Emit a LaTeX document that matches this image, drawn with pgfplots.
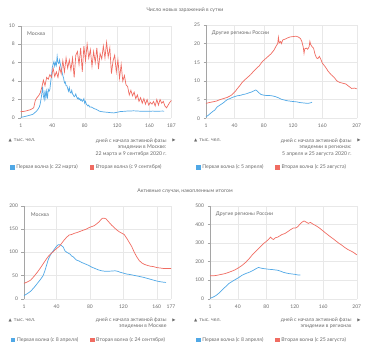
\documentclass[border=0pt]{standalone}
\usepackage{fontspec}
\setmainfont{Lato}
\newfontfamily\sym{DejaVu Sans}
\usepackage{pgfplots}
\pgfplotsset{compat=1.18}
\definecolor{cblue}{RGB}{80,168,230}
\definecolor{cred}{RGB}{240,108,98}
\definecolor{txt}{RGB}{105,105,105}
\definecolor{gridc}{RGB}{232,232,232}
\definecolor{axc}{RGB}{165,165,165}
\newcommand{\sz}{\fontsize{5.2}{6.6}\selectfont}
\pgfplotsset{
  panel/.style={
    scale only axis,
    axis x line*=bottom, axis y line*=left,
    x axis line style={gridc,-},
    y axis line style={axc,-},
    grid=major,
    major grid style={gridc,line width=0.4bp},
    xtick style={draw=none},
    ytick style={axc,line width=0.4bp},
    tick align=outside,
    major tick length=2.5bp,
    tick label style={font=\fontsize{5}{6}\selectfont, text=txt},
    /pgf/number format/assume math mode=true,
    /pgf/number format/1000 sep={},
    ymin=0, xmin=1,
    clip=false,
    every axis plot/.append style={line width=0.7bp, no markers},
    legend columns=2,
    legend cell align=left,
    legend style={draw=none, fill=none, inner sep=0pt, anchor=west,
      font=\sz, text=txt,
      /tikz/every even column/.append style={column sep=10bp}},
    legend image code/.code={\fill[##1] (0bp,-1.7bp) rectangle (3.4bp,1.7bp);},
  }
}
\begin{document}
\begin{tikzpicture}
\useasboundingbox (0,0) rectangle (371bp,-352bp);
% ---------- Panel 1
\begin{axis}[panel, at={(20.7bp,-118bp)}, anchor=south west,
  width=150.7bp, height=92.3bp, xmax=187, ymax=10,
  xtick={1,40,80,120,160,187}, ytick={0,2,4,6,8,10},
  legend style={at={(-0.071,-0.534)}}]
\addplot[cblue] coordinates {(1,0.07)(4,0.12)(7,0.18)(10,0.25)(13,0.32)(16,0.4)(18,0.55)(20,0.7)(22,0.9)(24,1.2)(25,1.5)(26,2.0)(27,2.6)(28,3.4)(29,2.4)(30,2.0)(31,3.0)(32,2.2)(33,2.9)(34,2.1)(35,3.1)(36,2.9)(37,3.1)(38,3.9)(39,4.6)(40,5.5)(41,5.8)(42,6.1)(43,5.6)(44,6.0)(45,5.7)(46,6.7)(47,6.0)(48,5.9)(49,6.3)(50,5.8)(51,5.4)(52,5.0)(53,4.6)(54,4.3)(55,3.8)(56,3.9)(57,3.5)(58,3.5)(59,3.2)(60,2.9)(61,3.3)(62,2.8)(63,2.7)(64,3.0)(65,2.6)(66,2.5)(67,2.3)(68,2.4)(69,2.6)(70,2.3)(71,2.1)(72,2.2)(73,2.0)(74,2.1)(75,1.9)(76,2.0)(77,1.8)(78,1.9)(79,2.1)(80,1.6)(81,1.8)(82,1.5)(83,1.4)(84,1.3)(85,1.4)(86,1.2)(88,1.2)(90,1.1)(92,1.0)(94,0.95)(96,0.85)(98,0.75)(100,0.7)(104,0.65)(108,0.62)(112,0.58)(116,0.55)(120,0.62)(124,0.7)(128,0.72)(132,0.75)(136,0.75)(140,0.78)(144,0.76)(148,0.74)(152,0.72)(156,0.74)(160,0.72)(164,0.75)(168,0.72)(172,0.74)(176,0.75)(178,0.74)};
\addlegendentry{Первая волна (с 22 марта)}
\addplot[cred] coordinates {(1,0.7)(3,0.7)(5,0.72)(7,0.75)(9,0.8)(11,0.85)(13,0.9)(15,1.0)(17,1.1)(19,1.9)(21,2.2)(23,2.4)(25,2.7)(27,3.3)(29,4.1)(31,3.5)(33,4.4)(35,4.2)(37,4.7)(39,4.4)(41,5.4)(43,4.5)(45,5.0)(47,4.4)(49,5.5)(51,4.8)(53,6.2)(55,5.0)(57,6.5)(59,5.4)(61,6.3)(63,5.2)(65,6.5)(67,4.4)(69,6.8)(71,7.2)(73,5.8)(75,7.6)(77,5.0)(79,7.8)(81,6.2)(83,8.0)(85,6.5)(87,7.4)(89,5.6)(91,7.2)(93,6.0)(95,7.6)(97,5.3)(99,7.0)(101,6.4)(103,7.8)(105,6.5)(107,8.2)(109,6.6)(111,7.6)(113,4.8)(115,6.2)(117,6.8)(119,5.0)(121,6.3)(123,4.3)(125,5.8)(127,4.0)(129,4.6)(131,3.6)(133,3.4)(135,2.5)(137,3.0)(139,2.4)(141,2.8)(143,2.1)(145,2.5)(147,1.8)(149,2.2)(151,1.6)(153,2.1)(155,1.5)(157,2.0)(159,1.4)(161,1.7)(163,1.5)(165,1.8)(167,1.3)(169,2.0)(171,1.4)(173,2.0)(175,1.6)(177,1.8)(179,1.3)(181,1.1)(183,1.4)(185,1.7)(187,1.9)};
\addlegendentry{Вторая волна (с 9 сентября)}
\end{axis}
% ---------- Panel 2
\begin{axis}[panel, at={(206bp,-118.3bp)}, anchor=south west,
  width=150.7bp, height=93.3bp, xmax=207, ymax=25,
  xtick={1,40,80,120,160,207}, ytick={0,5,10,15,20,25},
  legend style={at={(-0.066,-0.525)}}]
\addplot[cblue] coordinates {(1,0.4)(4,0.8)(7,1.3)(10,1.8)(13,2.2)(16,3.0)(19,3.4)(22,3.8)(25,4.2)(28,4.7)(31,5.1)(34,5.3)(37,5.6)(40,5.8)(43,6.0)(46,6.1)(49,6.2)(52,6.4)(55,6.5)(58,6.7)(61,6.9)(64,7.1)(67,7.4)(69,7.6)(71,7.3)(73,6.9)(76,6.4)(80,6.2)(84,6.1)(88,6.1)(92,6.0)(96,5.8)(100,5.5)(104,5.1)(108,4.9)(112,4.7)(116,4.6)(120,4.5)(125,4.4)(130,4.2)(135,4.1)(140,4.0)(143,4.1)(146,4.3)};
\addlegendentry{Первая волна (с 5 апреля)}
\addplot[cred] coordinates {(1,4.0)(5,4.2)(10,4.4)(15,4.6)(20,5.0)(25,5.3)(30,5.6)(35,6.1)(38,6.6)(41,7.2)(44,8.0)(47,8.7)(50,9.5)(54,10.3)(58,11.0)(62,11.7)(66,12.6)(70,13.4)(74,14.1)(78,15.2)(82,15.9)(86,16.6)(90,17.3)(94,18.3)(97,19.4)(99,20.0)(100,21.7)(101,20.2)(103,20.6)(104,20.0)(106,21.0)(109,21.2)(112,21.5)(116,21.8)(120,21.9)(124,22.0)(127,21.8)(130,21.4)(132,20.6)(134,19.0)(135,17.4)(136,18.6)(138,18.8)(140,18.5)(142,19.2)(143,20.6)(144,19.8)(146,19.2)(148,18.8)(150,17.2)(152,16.2)(154,16.0)(156,16.6)(158,15.8)(160,14.8)(164,13.8)(168,12.6)(172,11.7)(176,11.0)(180,10.0)(184,9.6)(188,9.4)(192,9.2)(196,8.6)(200,8.0)(204,8.1)(207,7.9)};
\addlegendentry{Вторая волна (с 25 августа)}
\end{axis}
% ---------- Panel 3
\begin{axis}[panel, at={(24bp,-298.7bp)}, anchor=south west,
  width=147bp, height=93bp, xmax=177, ymax=200,
  xtick={1,40,80,120,160,177}, ytick={0,50,100,150,200},
  legend style={at={(-0.090,-0.444)}}]
\addplot[cblue] coordinates {(1,6.5)(5,11)(9,16)(13,24)(17,33)(21,42)(24,50)(26,60)(28,72)(30,84)(32,92)(34,98)(36,103)(38,108)(40,113)(42,116)(44,116)(46,114)(48,111)(50,103)(52,100)(54,98)(56,96)(58,92)(60,90)(62,86)(64,83)(67,81)(70,78)(74,75)(78,72)(82,68)(86,65)(90,62)(94,60)(98,59)(102,59)(106,59.5)(110,60)(113,59)(116,57)(120,55)(124,53)(128,52)(132,50.5)(136,49)(140,47.5)(144,46)(148,44)(152,42)(156,40)(160,38)(164,36.5)(168,35.5)(171,35)};
\addlegendentry{Первая волна (с 8 апреля)}
\addplot[cred] coordinates {(1,33)(5,36)(9,40)(13,48)(17,57)(21,67)(25,78)(28,86)(31,93)(34,98)(37,103)(40,108)(43,112)(46,119)(49,126)(52,132)(55,137)(58,138)(61,140.5)(64,142)(67,144)(70,146)(73,148)(76,150)(79,153)(82,155)(85,157)(88,161)(91,165.5)(93,170)(95,173)(97,173)(99,172)(101,168)(103,164)(106,158)(109,153)(112,148)(115,144)(118,141)(121,138)(124,130)(127,121)(130,112)(133,100)(136,90)(139,82)(142,77)(145,74)(148,72)(152,70)(156,69)(160,67)(164,66)(168,65)(172,65)(177,65)};
\addlegendentry{Вторая волна (с 24 сентября)}
\end{axis}
% ---------- Panel 4
\begin{axis}[panel, at={(210bp,-298.7bp)}, anchor=south west,
  width=146.7bp, height=93bp, xmax=207, ymax=500,
  xtick={1,40,80,120,160,207}, ytick={0,100,200,300,400,500},
  legend style={at={(-0.0954,-0.444)}}]
\addplot[cblue] coordinates {(1,2)(5,8)(9,16)(13,28)(18,47)(23,65)(28,83)(33,95)(37,104)(41,113)(46,126)(51,135)(56,142)(61,151)(65,160)(69,168)(72,165)(76,162)(80,160)(84,158)(88,157)(92,155)(96,153)(100,148)(104,142)(108,138)(112,135)(116,133)(120,131)(124,128)(128,127)};
\addlegendentry{Первая волна (с 8 апреля)}
\addplot[cred] coordinates {(1,124)(6,123)(11,126)(16,130)(21,134)(26,140)(31,147)(36,155)(41,166)(46,179)(51,195)(56,215)(60,234)(64,250)(68,265)(72,280)(76,296)(80,308)(83,318)(86,331)(88,323)(90,318)(93,328)(96,331)(99,338)(102,345)(106,350)(110,360)(114,371)(118,380)(121,380)(124,386)(127,400)(130,411)(133,418)(136,412)(139,405)(142,410)(146,400)(150,392)(154,382)(158,370)(162,357)(166,345)(170,333)(174,322)(178,310)(182,298)(186,288)(190,276)(194,266)(198,258)(202,250)(205,242)(207,236)};
\addlegendentry{Вторая волна (с 25 августа)}
\end{axis}
% ---------- Texts
\begin{scope}[every node/.style={font=\sz, text=txt, inner sep=0pt}]
\node at (185bp,-10bp) {Число новых заражений в сутки};
\node at (185bp,-190.7bp) {Активные случаи, накопленным итогом};
\node[anchor=west] at (27bp,-33.3bp) {Москва};
\node[anchor=west] at (211.7bp,-33.3bp) {Другие регионы России};
\node[anchor=west] at (30.7bp,-214.3bp) {Москва};
\node[anchor=west] at (215.7bp,-214.3bp) {Другие регионы России};
% top-left annotation
\node[anchor=west] at (8.5bp,-140.7bp) {{\sym\fontsize{4.2}{4.5}\selectfont ▲}\hspace{2bp}тыс. чел.};
\node[anchor=north east, align=right] at (166.7bp,-138.2bp) {дней с начала активной фазы\\эпидемии в Москве:\\22 марта и 9 сентября 2020 г.};
\node at (174bp,-140.7bp) {\sym\fontsize{4.2}{4.5}\selectfont ▶};
% top-right annotation
\node[anchor=west] at (194bp,-140.7bp) {{\sym\fontsize{4.2}{4.5}\selectfont ▲}\hspace{2bp}тыс. чел.};
\node[anchor=north east, align=right] at (351.7bp,-138.2bp) {дней с начала активной фазы\\эпидемии в регионах:\\5 апреля и 25 августа 2020 г.};
\node at (359bp,-140.7bp) {\sym\fontsize{4.2}{4.5}\selectfont ▶};
% bottom-left annotation
\node[anchor=west] at (8.5bp,-320bp) {{\sym\fontsize{4.2}{4.5}\selectfont ▲}\hspace{2bp}тыс. чел.};
\node[anchor=north east, align=right] at (166.7bp,-317.5bp) {дней с начала активной фазы\\эпидемии в Москве};
\node at (174bp,-320bp) {\sym\fontsize{4.2}{4.5}\selectfont ▶};
% bottom-right annotation
\node[anchor=west] at (194bp,-320bp) {{\sym\fontsize{4.2}{4.5}\selectfont ▲}\hspace{2bp}тыс. чел.};
\node[anchor=north east, align=right] at (351.7bp,-317.5bp) {дней с начала активной фазы\\эпидемии в регионах};
\node at (359bp,-320bp) {\sym\fontsize{4.2}{4.5}\selectfont ▶};
\end{scope}
\end{tikzpicture}
\end{document}
